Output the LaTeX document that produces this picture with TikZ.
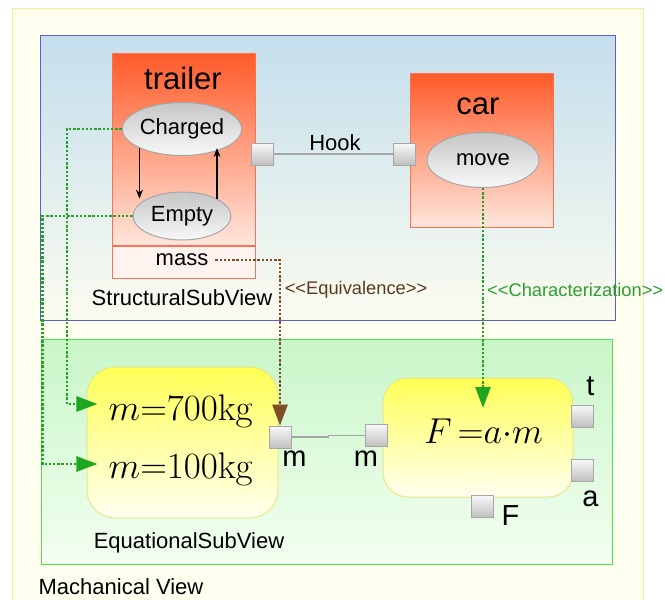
\RequirePackage{fix-cm}
\documentclass[tikz,border=0pt]{standalone}
\usepackage[no-math]{fontspec}
\setmainfont{Liberation Sans}
\usetikzlibrary{arrows.meta,positioning,shapes.geometric}

\definecolor{blockTop}{HTML}{FF5A28}
\definecolor{blockBot}{HTML}{FFE6DC}
\definecolor{blockLine}{HTML}{FF7052}
\definecolor{massFill}{HTML}{FFF3EF}
\definecolor{structTop}{HTML}{C4DEEC}
\definecolor{structBot}{HTML}{FBFCF0}
\definecolor{structLine}{HTML}{5E5EC8}
\definecolor{equTop}{HTML}{C8F6C8}
\definecolor{equBot}{HTML}{F3FFF0}
\definecolor{equLine}{HTML}{50E050}
\definecolor{mechFill}{HTML}{FFFFF0}
\definecolor{mechLine}{HTML}{F0F0A0}
\definecolor{yelTop}{HTML}{FFFF55}
\definecolor{yelBot}{HTML}{FFFFF0}
\definecolor{yelLine}{HTML}{E6E68A}
\definecolor{linkGreen}{HTML}{1FA51F}
\definecolor{linkBrown}{HTML}{7E4E26}
\definecolor{eqvText}{HTML}{5A3A1E}
\definecolor{charText}{HTML}{2E9E2E}

\newcommand{\fsz}[1]{\fontsize{#1}{#1}\selectfont}

\begin{document}
\begin{tikzpicture}[
  x=1pt, y=-1pt,
  >=Stealth,
  viewbox/.style={draw, line width=1pt},
  blockbox/.style={draw=blockLine, line width=1pt, top color=blockTop,
                   bottom color=blockBot, minimum width=143pt, inner sep=0pt},
  cellbox/.style={draw=blockLine, line width=1pt, fill=massFill,
                  minimum width=143pt, minimum height=32pt, inner sep=0pt},
  statenode/.style={ellipse, draw=gray!70, line width=1pt, top color=gray!45,
                    bottom color=gray!5, font=\fsz{22}, inner sep=0pt},
  portbox/.style={draw=gray!70, line width=0.8pt, top color=gray!5,
                  bottom color=gray!50, minimum size=22pt, inner sep=0pt},
  eqbox/.style={draw=yelLine, line width=1pt, top color=yelTop,
                bottom color=yelBot, rounded corners=28pt, inner sep=0pt},
  eqtxt/.style={inner sep=11pt},
  txt/.style={font=\fsz{22}, inner sep=0pt},
  porttxt/.style={font=\fsz{29}, inner sep=0pt},
  stereo/.style={font=\fsz{18.3}, inner sep=0pt},
  portlink/.style={draw=gray!70, line width=1.1pt},
  statearrow/.style={->, >={Stealth[length=9pt,width=7pt]}, line width=1.3pt},
  eqvlink/.style={linkGreen, line width=2.6pt, dash pattern=on 2.4pt off 1.8pt},
  brownlink/.style={linkBrown, line width=2.6pt, dash pattern=on 2.4pt off 1.8pt},
  bigtip/.style={-{Triangle[length=21pt,width=15pt]}},
]
\useasboundingbox (0,0) rectangle (665,600);

% === Machanical view ===
\draw[viewbox, draw=mechLine, fill=mechFill] (12,8) rectangle (643,612);
\node[txt] (mview) at (121,586.5) {Machanical View};

% === Structural sub view ===
\draw[viewbox, draw=structLine, top color=structTop, bottom color=structBot]
  (40,35) rectangle (615,320);
\node[txt] (sview) at (182,298) {StructuralSubView};

% trailer
\node[blockbox, minimum height=192pt] (trailer) at (183.5,149) {};
\node[cellbox, below=0pt of trailer] (masscell) {};
\node[font=\fsz{31}, inner sep=0pt] (trailertitle) at (183,78) {trailer};
\node[statenode, minimum width=111pt, minimum height=53pt] (chg) at (182,129) {Charged};
\node[statenode, minimum width=98pt, minimum height=48pt] (emp) at (182,216) {Empty};
\node[txt] (mass) at (182,260) {mass};
\draw[statearrow] (chg.south west) -- (chg.south west |- emp.north west);
\draw[statearrow] (emp.north east) -- (emp.north east |- chg.south east);

% car
\node[blockbox, minimum height=154pt] (car) at (481.5,150) {};
\node[font=\fsz{31}, inner sep=0pt] (cartitle) at (478,106) {car};
\node[statenode, minimum width=112pt, minimum height=55pt] (move) at (483,160) {move};

% hook
\node[portbox] (ptrl) at (262,154) {};
\node[portbox] (pcar) at (404,154) {};
\draw[portlink] (ptrl.east) -- (pcar.west);
\node[txt] (hook) at (335,142.5) {Hook};

% === Equational sub view ===
\draw[viewbox, draw=equLine, top color=equTop, bottom color=equBot]
  (41,339) rectangle (612,564);
\node[txt] (eview) at (189,543) {EquationalSubView};

\node[eqbox, minimum width=191pt, minimum height=151pt] (eqmass) at (182.5,442.5) {};
\node[eqtxt, font=\fsz{37}] (m700) at (181,411) {$m{=}700\mathrm{kg}$};
\node[eqtxt, font=\fsz{37}] (m100) at (181,469) {$m{=}100\mathrm{kg}$};

\node[eqbox, rounded corners=25pt, minimum width=190pt, minimum height=119pt]
  (eqlaw) at (478,437.5) {};
\node[eqtxt, font=\fsz{36}] (fam) at (483.5,431.5) {$F\,{=}a{\cdot}m$};

% ports
\node[portbox] (pm1) at (280,437) {};
\node[portbox] (pm2) at (376,435.5) {};
\node[portbox] (pvt) at (582,416) {};
\node[portbox] (pva) at (582,470.5) {};
\node[portbox] (pvf) at (482,506.5) {};
\draw[portlink] (pm1.east) -| ([xshift=-36pt]pm2.west) -- (pm2.west);

\node[porttxt] (lm1) at (294.5,459) {m};
\node[porttxt] (lm2) at (366,459) {m};
\node[porttxt] (lt) at (590.5,386.5) {t};
\node[porttxt] (la) at (590.5,498.5) {a};
\node[porttxt] (lf) at (510.5,516) {F};

% === Links ===
\draw[eqvlink, bigtip] (chg.west) -- ++(-55,0) |- ([yshift=7pt]m700.west);
\draw[eqvlink, bigtip] (emp.west) -- ++(-90,0) |- ([yshift=5pt]m100.west);

\draw[brownlink, bigtip] ([xshift=7pt]mass.east) -| (pm1.north);
\node[stereo, text=eqvText] (eqvlbl) at (356,290) {<{}<Equivalence>{}>};

\draw[eqvlink, bigtip] (move.south) -- (move.south |- fam.north);
\node[stereo, text=charText, anchor=west] (charlbl) at (487,290)
  {<{}<Characterization>{}>};

\end{tikzpicture}
\end{document}
